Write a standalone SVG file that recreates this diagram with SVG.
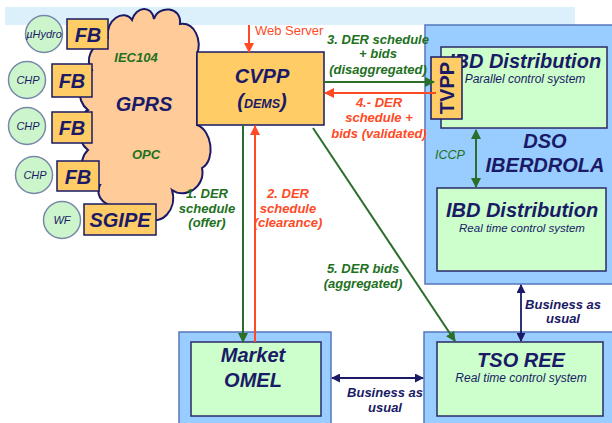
<svg xmlns="http://www.w3.org/2000/svg" width="612" height="423" viewBox="0 0 612 423">
<defs>
<style>
text{font-family:"Liberation Sans",Arial,sans-serif}
.nv{fill:#1a1a66}
.bi{font-weight:bold;font-style:italic}
.big{font-size:20px}
.sm{font-size:12px;font-style:italic}
.gt{fill:#217021;font-size:13px;font-weight:bold;font-style:italic}
.rt{fill:#ff4a26;font-size:13px;font-weight:bold;font-style:italic}
.bt{fill:#1a1a66;font-size:13px;font-weight:bold;font-style:italic}
.org{fill:#ffcc66;stroke:#1a1a66;stroke-width:1.5}
.circ{fill:#ccf5cc;stroke:#7788aa;stroke-width:1.5}
.outer{fill:#99ccff;stroke:#5577bb;stroke-width:1.5}
.inner{fill:#ccffcc;stroke:#2a2a66;stroke-width:1.5}
.g{stroke:#2a6e2a;stroke-width:2;fill:none}
.r{stroke:#ff4a26;stroke-width:2;fill:none}
.n{stroke:#1a1a66;stroke-width:1.8;fill:none}
</style>
<marker id="ag" viewBox="0 0 10 10" refX="9" refY="5" markerWidth="5" markerHeight="5" orient="auto-start-reverse"><path d="M0,0L10,5L0,10z" fill="#2a6e2a"/></marker>
<marker id="ar" viewBox="0 0 10 10" refX="9" refY="5" markerWidth="5" markerHeight="5" orient="auto-start-reverse"><path d="M0,0L10,5L0,10z" fill="#ff4a26"/></marker>
<marker id="an" viewBox="0 0 10 10" refX="9" refY="5" markerWidth="5" markerHeight="5" orient="auto-start-reverse"><path d="M0,0L10,5L0,10z" fill="#1a1a66"/></marker>
</defs>
<rect x="5" y="7" width="570" height="18" fill="#dcf0fb"/>

<g id="cloud">
<path d="M108,38 C105,20 124,8 132,20 C136,6 152,5 154,19 C158,5 182,6 180,24 C195,22 202,40 197,55 L197,125 C212,130 216,160 202,168 C206,186 186,200 172,190 C178,210 160,226 150,218 C140,232 118,222 125,205 C105,210 94,196 100,185 C80,185 77,160 88,150 C75,140 77,116 88,110 C75,100 78,76 92,70 C85,60 90,45 108,38 Z" fill="#ffcc99" stroke="#1a1a66" stroke-width="2"/>
<text x="136" y="62" class="gt" text-anchor="middle">IEC104</text>
<text x="144" y="111" class="nv bi big" text-anchor="middle">GPRS</text>
<text x="146" y="159" class="gt" font-size="12" text-anchor="middle">OPC</text>
</g>

<g id="uhydro"><circle cx="44" cy="34" r="18.5" class="circ"/><text x="44" y="38" class="nv" font-size="11" font-style="italic" text-anchor="middle">µHydro</text></g>
<g id="chp1"><circle cx="27" cy="80" r="18.5" class="circ"/><text x="28" y="84" class="nv" font-size="11" font-style="italic" text-anchor="middle">CHP</text></g>
<g id="chp2"><circle cx="27" cy="126" r="18.5" class="circ"/><text x="28" y="130" class="nv" font-size="11" font-style="italic" text-anchor="middle">CHP</text></g>
<g id="chp3"><circle cx="34" cy="175" r="18.5" class="circ"/><text x="35" y="179" class="nv" font-size="11" font-style="italic" text-anchor="middle">CHP</text></g>
<g id="wf"><circle cx="62" cy="220" r="18.5" class="circ"/><text x="62" y="224" class="nv" font-size="11" font-style="italic" text-anchor="middle">WF</text></g>

<g id="fb1"><rect x="67" y="19" width="41" height="30" class="org"/><text x="88" y="42" class="nv bi big" text-anchor="middle">FB</text></g>
<g id="fb2"><rect x="52" y="64" width="40" height="33" class="org"/><text x="72" y="88" class="nv bi big" text-anchor="middle">FB</text></g>
<g id="fb3"><rect x="52" y="112" width="40" height="31" class="org"/><text x="72" y="135" class="nv bi big" text-anchor="middle">FB</text></g>
<g id="fb4"><rect x="57" y="161" width="42" height="30" class="org"/><text x="78" y="184" class="nv bi big" text-anchor="middle">FB</text></g>
<g id="sgipe"><rect x="84" y="204" width="72" height="31" class="org"/><text x="120" y="227" class="nv bi big" text-anchor="middle">SGIPE</text></g>

<g id="cvpp"><rect x="197" y="52" width="127" height="73" class="org"/>
<text x="262" y="83" class="nv bi big" text-anchor="middle">CVPP</text>
<text x="262" y="108" class="nv bi" text-anchor="middle"><tspan font-size="20">(</tspan><tspan font-size="12.5">DEMS</tspan><tspan font-size="20">)</tspan></text></g>

<g id="dso"><rect x="425" y="25" width="192" height="259" class="outer"/>
<rect x="441" y="47" width="166" height="81" class="inner"/>
<text x="525" y="68" class="nv bi big" text-anchor="middle">IBD Distribution</text>
<text x="525" y="83" class="nv sm" text-anchor="middle">Parallel control system</text>
<text x="545" y="148" class="nv bi big" text-anchor="middle">DSO</text>
<text x="545" y="172" class="nv bi big" text-anchor="middle">IBERDROLA</text>
<rect x="437" y="188" width="169" height="83" class="inner"/>
<text x="522" y="217" class="nv bi big" text-anchor="middle">IBD Distribution</text>
<text x="522" y="232" class="nv" font-size="11.5" font-style="italic" text-anchor="middle">Real time control system</text></g>

<g id="tvpp"><rect x="431" y="57" width="31" height="62" class="org"/><text transform="translate(454,88) rotate(-90)" class="nv big" font-weight="bold" text-anchor="middle">TVPP</text></g>

<g id="omel"><rect x="179" y="332" width="152" height="100" class="outer"/><rect x="191" y="342" width="130" height="74" class="inner"/>
<text x="253" y="362" class="nv bi big" text-anchor="middle">Market</text>
<text x="253" y="387" class="nv bi big" text-anchor="middle">OMEL</text></g>

<g id="tso"><rect x="424" y="332" width="193" height="100" class="outer"/><rect x="437" y="342" width="166" height="74" class="inner"/>
<text x="521" y="367" class="nv bi big" text-anchor="middle">TSO REE</text>
<text x="521" y="382" class="nv sm" text-anchor="middle">Real time control system</text></g>

<g id="connectors">
<line x1="249" y1="25" x2="249" y2="52" class="r" marker-end="url(#ar)"/>
<line x1="324" y1="82" x2="434" y2="82" class="g" marker-end="url(#ag)"/>
<line x1="436" y1="93" x2="325" y2="93" class="r" marker-end="url(#ar)"/>
<line x1="243" y1="125" x2="243" y2="342" class="g" marker-end="url(#ag)"/>
<line x1="255" y1="342" x2="255" y2="126" class="r" marker-end="url(#ar)"/>
<line x1="313" y1="128" x2="455" y2="341" class="g" marker-end="url(#ag)"/>
<line x1="476" y1="130" x2="476" y2="187" class="g" marker-start="url(#ag)" marker-end="url(#ag)"/>
<line x1="332" y1="378" x2="423" y2="378" class="n" marker-start="url(#an)" marker-end="url(#an)"/>
<line x1="521" y1="285" x2="521" y2="341" class="n" marker-start="url(#an)" marker-end="url(#an)"/>
</g>

<g id="labels">
<text x="255" y="35" fill="#ff4a26" font-size="13">Web Server</text>
<text x="378" y="44" class="gt" text-anchor="middle">3. DER schedule</text>
<text x="378" y="58" class="gt" text-anchor="middle">+ bids</text>
<text x="378" y="74" class="gt" text-anchor="middle">(disaggregated)</text>
<text x="379" y="107" class="rt" text-anchor="middle">4.- DER</text>
<text x="379" y="122" class="rt" text-anchor="middle">schedule +</text>
<text x="379" y="138" class="rt" text-anchor="middle">bids (validated)</text>
<text x="207" y="198" class="gt" text-anchor="middle">1. DER</text>
<text x="207" y="213" class="gt" text-anchor="middle">schedule</text>
<text x="207" y="227" class="gt" text-anchor="middle">(offer)</text>
<text x="288" y="198" class="rt" text-anchor="middle">2. DER</text>
<text x="288" y="213" class="rt" text-anchor="middle">schedule</text>
<text x="288" y="227" class="rt" text-anchor="middle">(clearance)</text>
<text x="363" y="273" class="gt" text-anchor="middle">5. DER bids</text>
<text x="363" y="288" class="gt" text-anchor="middle">(aggregated)</text>
<text x="450" y="159" fill="#217021" font-size="12.5" font-style="italic" text-anchor="middle">ICCP</text>
<text x="385" y="397" class="bt" text-anchor="middle">Business as</text>
<text x="385" y="412" class="bt" text-anchor="middle">usual</text>
<text x="563" y="309" class="bt" text-anchor="middle">Business as</text>
<text x="563" y="323" class="bt" text-anchor="middle">usual</text>
</g>
</svg>
